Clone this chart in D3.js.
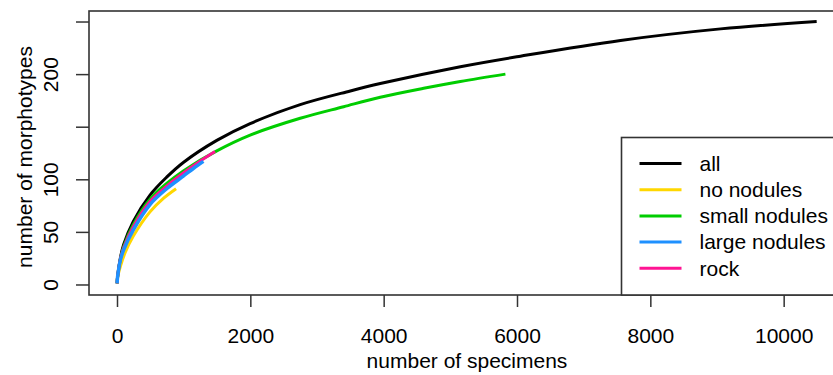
<!DOCTYPE html>
<html>
<head>
<meta charset="utf-8">
<script src="https://cdn.jsdelivr.net/npm/d3@7"></script>
<style>
  body { margin: 0; background: #fff; }
  svg { display: block; }
  text { font-family: "Liberation Sans", Arial, sans-serif; fill: #000; }
</style>
</head>
<body>
<div id="chart"></div>
<script>
// rarefaction curves, values
const allX = [1, 10, 50, 100, 245, 495, 745, 995, 1497, 1997, 2748, 3500, 3949, 5150, 6051, 7553, 9054, 10495];
const allY = [1, 8, 25, 38, 60, 85, 102, 116, 137, 153, 171, 184, 191, 207, 217, 232, 243, 250];

const noNodX = [1, 10, 50, 120, 245, 495, 700, 886];
const noNodY = [1, 7, 17, 30, 46, 69, 82, 91];

const smallNodX = [1, 10, 50, 100, 245, 495, 745, 995, 1497, 1997, 2748, 3400, 3949, 4600, 5150, 5826];
const smallNodY = [1, 8, 24, 36, 57, 81, 96, 108, 127, 142, 158, 169, 178, 186.5, 193, 200];

const largeNodX = [1, 10, 50, 100, 245, 495, 745, 995, 1150, 1296];
const largeNodY = [1, 8, 23, 33, 52, 76, 91, 103, 110.5, 117];

const rockX = [1, 10, 50, 100, 245, 495, 745, 995, 1250, 1471];
const rockY = [1, 8, 24, 35, 55, 79, 93.5, 106, 117.5, 126.5];

const legendLabels = ["all", "no nodules", "small nodules", "large nodules", "rock"];
const xTicks = [0, 2000, 4000, 6000, 8000, 10000];
const yTicks = [0, 50, 100, 150, 200, 250];
const yTickLabels = ["0", "50", "100", "", "200", ""];

const colors = ["#000000", "#ffd700", "#00cd00", "#1e90ff", "#ff1493"];

const W = 833, H = 375;
const margin = { top: 11, right: -12, bottom: 80, left: 89 };
const width = W - margin.left - margin.right;
const height = H - margin.top - margin.bottom;

const svg = d3.select('#chart').append('svg')
  .attr('width', W)
  .attr('height', H);

const g = svg.append('g')
  .attr('transform', 'translate(' + margin.left + ',' + margin.top + ')');

// R style 4% padding on both axes
const x = d3.scaleLinear().domain([-420, 10920]).range([0, width]);
const y = d3.scaleLinear().domain([-10, 260]).range([height, 0]);

// x axis
const xAxis = g.append('g')
  .attr('transform', 'translate(0,' + height + ')')
  .call(d3.axisBottom(x).tickValues(xTicks).tickSize(12).tickFormat(d3.format('d')));
xAxis.select('.domain').remove();
xAxis.selectAll('line').attr('stroke', '#333').attr('stroke-width', 1.5);
xAxis.selectAll('text')
  .attr('y', 48).attr('dy', 0)
  .style('font-size', '21px');

// y axis, labels turned like R's las=0
const yAxis = g.append('g')
  .call(d3.axisLeft(y).tickValues(yTicks).tickSize(13).tickFormat((d, i) => yTickLabels[i]));
yAxis.select('.domain').remove();
yAxis.selectAll('line').attr('stroke', '#333').attr('stroke-width', 1.5);
yAxis.selectAll('text')
  .attr('x', 0).attr('dy', 0)
  .attr('text-anchor', 'middle')
  .attr('transform', 'translate(-31,0) rotate(-90)')
  .style('font-size', '21px');

// axis titles
svg.append('text')
  .attr('x', margin.left + width / 2)
  .attr('y', 368)
  .attr('text-anchor', 'middle')
  .style('font-size', '21px')
  .text('number of specimens');

svg.append('text')
  .attr('transform', 'translate(32,157) rotate(-90)')
  .attr('text-anchor', 'middle')
  .style('font-size', '21px')
  .text('number of morphotypes');

// curves
const series = [
  { xs: allX, ys: allY, c: colors[0], w: 3 },
  { xs: noNodX, ys: noNodY, c: colors[1], w: 3 },
  { xs: smallNodX, ys: smallNodY, c: colors[2], w: 3 },
  { xs: rockX, ys: rockY, c: colors[4], w: 3 },
  { xs: largeNodX, ys: largeNodY, c: colors[3], w: 3.5 }
];

const line = d3.line()
  .x(d => x(d[0]))
  .y(d => y(d[1]))
  .curve(d3.curveCatmullRom.alpha(0.5));

series.forEach(function (s) {
  g.append('path')
    .datum(d3.zip(s.xs, s.ys))
    .attr('fill', 'none')
    .attr('stroke', s.c)
    .attr('stroke-width', s.w)
    .attr('stroke-linecap', 'butt')
    .attr('d', line);
});

// plot box
g.append('rect')
  .attr('x', 0).attr('y', 0)
  .attr('width', width).attr('height', height)
  .attr('fill', 'none')
  .attr('stroke', '#333')
  .attr('stroke-width', 1.6);

// legend, bottom right
const lg = g.append('g')
  .attr('transform', 'translate(' + (621.5 - margin.left) + ',' + (137.5 - margin.top) + ')');

lg.append('rect')
  .attr('width', 250)
  .attr('height', height - (137.5 - margin.top))
  .attr('fill', '#fff')
  .attr('stroke', '#333')
  .attr('stroke-width', 1.6);

legendLabels.forEach(function (lab, i) {
  const yy = 26 + i * 26.2;
  lg.append('line')
    .attr('x1', 18).attr('x2', 60)
    .attr('y1', yy).attr('y2', yy)
    .attr('stroke', colors[i])
    .attr('stroke-width', 3);
  lg.append('text')
    .attr('x', 78).attr('y', yy)
    .attr('dy', '0.35em')
    .style('font-size', '21px')
    .text(lab);
});
</script>
</body>
</html>
